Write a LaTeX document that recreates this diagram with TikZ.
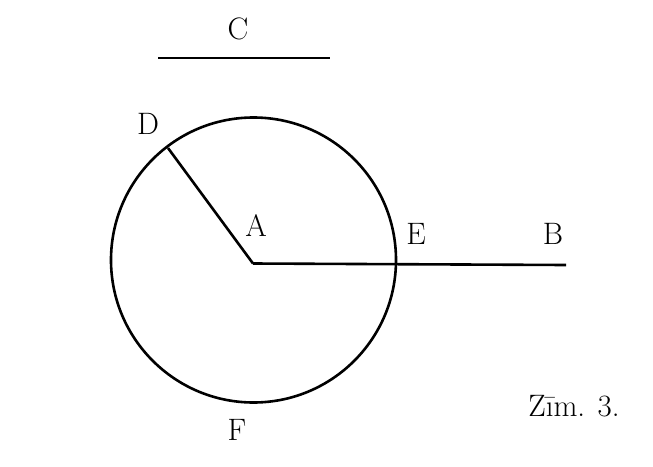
\documentclass[tikz,border=0pt]{standalone}
\begin{document}
\begin{tikzpicture}[x=1pt,y=-1pt,
  lbl/.style={inner sep=0pt,font=\fontsize{31}{37}\selectfont},
  geo/.style={line width=2.6pt,black}]
\useasboundingbox (0,0) rectangle (653,466);
% points
\coordinate (O) at (253.5,260);
\coordinate (A) at (253,263.5);
\coordinate (D) at (168,148);
\coordinate (Bend) at (566,265);
\coordinate (C1) at (158,58);
\coordinate (C2) at (330,58);
% drawing
\draw[geo] (O) circle[radius=142.5];
\draw[geo] (A) -- (D);
\draw[geo] (A) -- (Bend);
\draw[geo] (C1) -- (C2);
% labels
\node[lbl] (lC) at (238,29) {C};
\node[lbl] (lD) at (148,124) {D};
\node[lbl] (lA) at (256,226) {A};
\node[lbl] (lE) at (416,234) {E};
\node[lbl] (lB) at (553,234) {B};
\node[lbl] (lF) at (237,430) {F};
\node[lbl,anchor=base] (cap) at (574,416.5) {Zīm. 3.};
\end{tikzpicture}
\end{document}
